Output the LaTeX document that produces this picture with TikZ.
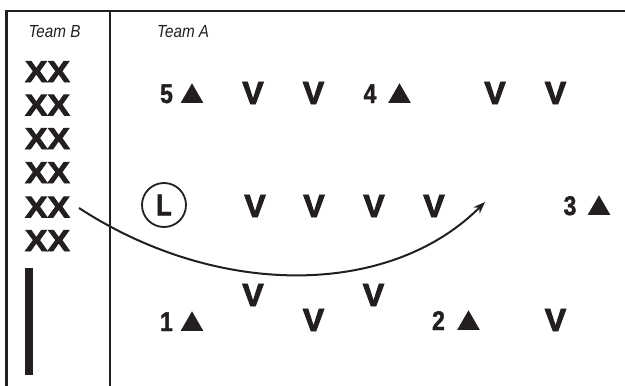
\documentclass[tikz,border=0pt]{standalone}
\usepackage{fontspec}
\setmainfont{Liberation Sans}
\newfontfamily\condfont[FakeStretch=0.85,FakeBold=1.5]{Liberation Sans Bold}
\newfontfamily\labfont[FakeStretch=0.87]{Liberation Sans}
\newfontfamily\widefont[FakeStretch=1.12,FakeBold=3]{Liberation Sans Bold}
\newfontfamily\heavyfont[FakeBold=3]{Liberation Sans Bold}
\usetikzlibrary{shapes.geometric,arrows.meta}
\definecolor{ink}{HTML}{231F20}
\begin{document}
\begin{tikzpicture}[x=1pt,y=-1pt,
  frameline/.style={draw=ink,line width=2.2pt},
  teamlab/.style={inner sep=0pt,anchor=base,font=\labfont\itshape\fontsize{17.5}{20}\selectfont,text=ink},
  xx/.style={inner sep=0pt,anchor=base,font=\widefont\fontsize{30}{32}\selectfont,text=ink},
  vv/.style={inner sep=0pt,anchor=base,font=\heavyfont\fontsize{32}{34}\selectfont,text=ink},
  num/.style={inner sep=0pt,anchor=base,font=\condfont\fontsize{27}{30}\selectfont,text=ink},
  tri/.style={regular polygon,regular polygon sides=3,fill=ink,inner sep=0pt,minimum size=26pt,anchor=south},
  leader/.style={circle,draw=ink,line width=1.8pt,minimum size=44pt,inner sep=0pt,font=\condfont\fontsize{30}{32}\selectfont,text=ink},
  run/.style={draw=ink,line width=2pt,-{Stealth[length=12pt,width=9pt]}},
  bar/.style={fill=ink}]
\useasboundingbox (0,0) rectangle (625,386);
% frame
\coordinate (tl) at (6.5,11);
\coordinate (bl) at (6.5,386);
\coordinate (tr) at (625,11);
\coordinate (dt) at (110,11);
\coordinate (db) at (110,386);
\draw[frameline] (bl) -- (tl) -- (tr);
\draw[frameline] (dt) -- (db);
% labels
\node[teamlab] (tb) at (54.5,37) {Team B};
\node[teamlab,anchor=base west] (ta) at (157,37) {Team A};
% team B
\node[xx] (x1) at (47.5,82) {XX};
\node[xx] (x2) at (47.5,115.5) {XX};
\node[xx] (x3) at (47.5,149) {XX};
\node[xx] (x4) at (47.5,183) {XX};
\node[xx] (x5) at (47.5,217.5) {XX};
\node[xx] (x6) at (47.5,251) {XX};
\fill[bar] (25,268) rectangle (33,375);
% row 1
\node[num] (n5) at (166.5,103) {5};
\node[tri] (t5) at (192,103) {};
\node[vv] (v11) at (253,104) {V};
\node[vv] (v12) at (313.5,104) {V};
\node[num] (n4) at (370,103) {4};
\node[tri] (t4) at (399.5,103) {};
\node[vv] (v13) at (495,104) {V};
\node[vv] (v14) at (555.5,104) {V};
% row 2
\node[leader] (L) at (164,205) {L};
\node[vv] (v21) at (255,217) {V};
\node[vv] (v22) at (314,217) {V};
\node[vv] (v23) at (374,217) {V};
\node[vv] (v24) at (434,217) {V};
\node[num] (n3) at (570,215) {3};
\node[tri] (t3) at (599,215) {};
% row 3
\node[num] (n1) at (166.5,331) {1};
\node[tri] (t1) at (192,331) {};
\node[vv] (v31) at (253,306) {V};
\node[vv] (v32) at (313.5,331) {V};
\node[vv] (v33) at (373.5,306) {V};
\node[num] (n2) at (438.5,330) {2};
\node[tri] (t2) at (468.5,330) {};
\node[vv] (v34) at (555.5,331) {V};
% arrow
\coordinate (as) at (79,208);
\coordinate (ae) at (485,202);
\draw[run] (as) .. controls (217,298) and (389,298) .. (ae);
\end{tikzpicture}
\end{document}
